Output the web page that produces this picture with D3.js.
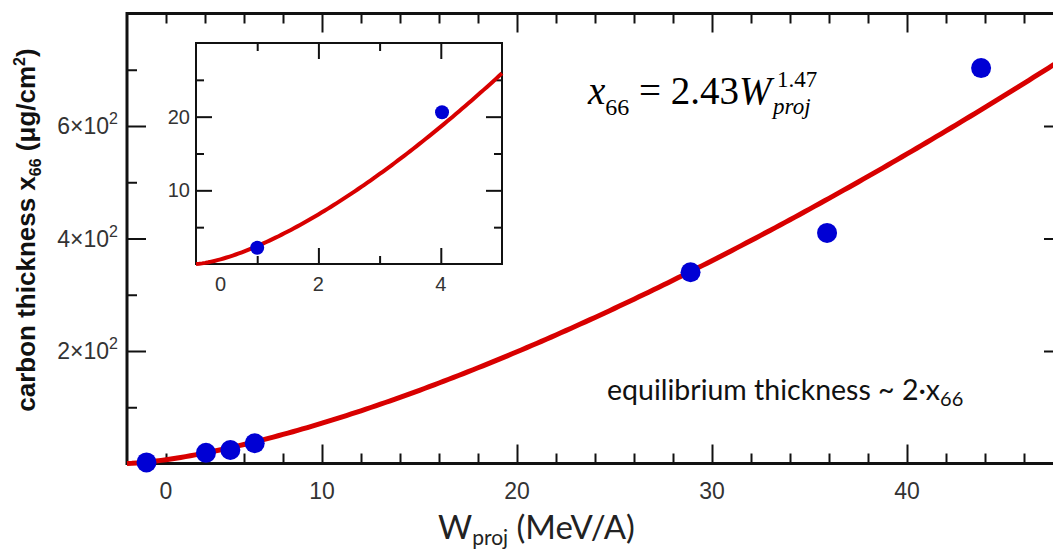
<!DOCTYPE html>
<html><head><meta charset="utf-8">
<script src="https://cdn.jsdelivr.net/npm/d3@7"></script>
<style>body{margin:0;background:#fff}svg{display:block}</style>
</head><body><svg id="c" width="1053" height="552"></svg>
<script>
// ---- data ----
const mainW   = [1.0, 4.05, 5.3, 6.55, 28.9, 35.9, 43.8];
const mainX66 = [2, 19, 24, 36, 340, 410, 703];
const insetW   = [1.0, 4.02];
const insetX66 = [2.2, 20.6];
const fitCoef = 2.43, fitExp = 1.47;

const xMajor = [10, 20, 30, 40];
const xMinor = [2,4,6,8,12,14,16,18,22,24,26,28,32,34,36,38,42,44,46];
const xLabelPos  = [2, 10, 20, 30, 40];
const xLabelText = ["0", "10", "20", "30", "40"];
const yMajor = [200, 400, 600];
const yMinor = [100, 300, 500, 700];
const yLabelBase = ["2×10", "4×10", "6×10"];
const yLabelExp  = ["2", "2", "2"];

const inXMajor = [2, 4];
const inXMinor = [1, 3];
const inXLabelPos  = [0.4, 2, 4];
const inXLabelText = ["0", "2", "4"];
const inYMajor = [10, 20];
const inYMinor = [5, 15, 25];
const inYLabelText = ["10", "20"];

// ---- drawing ----
const svg = d3.select("#c");
svg.append("rect").attr("width",1053).attr("height",552).attr("fill","#fff");

const x = d3.scaleLinear([0, 48], [127, 1063]);
const y = d3.scaleLinear([0, 800], [463.5, 13.5]);

function tickGroup(parent, axisFn, scale, vals, size, tx, ty, sw) {
  const g = parent.append("g").attr("transform", `translate(${tx},${ty})`)
    .call(axisFn(scale).tickValues(vals).tickSize(size).tickFormat(""));
  g.select(".domain").remove();
  g.selectAll(".tick line").attr("stroke", "#111").attr("stroke-width", sw);
  return g;
}

const main = svg.append("g");
tickGroup(main, d3.axisBottom, x, xMajor, -19, 0, y(0), 2);
tickGroup(main, d3.axisBottom, x, xMinor, -10, 0, y(0), 2);
tickGroup(main, d3.axisTop, x, xMajor, -19, 0, y(800), 2);
tickGroup(main, d3.axisTop, x, xMinor, -10, 0, y(800), 2);
tickGroup(main, d3.axisLeft, y, yMajor, -19, x(0), 0, 2);
tickGroup(main, d3.axisLeft, y, yMinor, -10, x(0), 0, 2);
tickGroup(main, d3.axisRight, y, yMajor, -19, x(48), 0, 2);
tickGroup(main, d3.axisRight, y, yMinor, -10, x(48), 0, 2);
main.append("rect").attr("x", x(0)).attr("y", y(800))
  .attr("width", x(48) - x(0)).attr("height", y(0) - y(800))
  .attr("fill", "none").attr("stroke", "#111").attr("stroke-width", 3);

main.selectAll("text.xl").data(xLabelPos).join("text").attr("class","xl")
  .attr("x", d => x(d)).attr("y", 499).attr("text-anchor","middle")
  .attr("font-family","Liberation Sans, Arial, sans-serif").attr("font-size",23).attr("fill","#333")
  .text((d,i) => xLabelText[i]);
const yl = main.selectAll("text.yl").data(yMajor).join("text").attr("class","yl")
  .attr("x", x(0) - 9).attr("y", d => y(d) + 8).attr("text-anchor","end")
  .attr("font-family","Liberation Sans, Arial, sans-serif").attr("font-size",23).attr("fill","#333");
yl.append("tspan").text((d,i) => yLabelBase[i]);
yl.append("tspan").attr("dy", -10).attr("font-size", 16).text((d,i) => yLabelExp[i]);

const fitW = d3.range(0, 48.001, 0.25);
const line = d3.line().x(d => x(d)).y(d => y(fitCoef * Math.pow(d, fitExp)));
main.append("path").datum(fitW).attr("d", line).attr("fill","none")
  .attr("stroke","#d80000").attr("stroke-width",5);

main.selectAll("circle").data(mainW).join("circle")
  .attr("cx", d => x(d)).attr("cy", (d,i) => y(mainX66[i])).attr("r", 10).attr("fill","#0000d4");

// axis titles
const yt = svg.append("text").attr("transform","translate(35,230) rotate(-90)")
  .attr("text-anchor","middle").attr("font-family","Liberation Sans, Arial, sans-serif")
  .attr("font-weight","bold").attr("font-size",26).attr("fill","#111");
yt.append("tspan").text("carbon thickness x");
yt.append("tspan").attr("font-size",16).attr("dy",6).text("66");
yt.append("tspan").attr("dy",-6).text(" (μg/cm");
yt.append("tspan").attr("font-size",16).attr("dy",-10).text("2");
yt.append("tspan").attr("dy",10).text(")");

const xt = svg.append("text").attr("x", 438).attr("y", 539)
  .attr("font-family","Lato, Open Sans, sans-serif").attr("font-size",33).attr("fill","#222");
xt.append("tspan").text("W");
xt.append("tspan").attr("font-size",21).attr("dy",6).text("proj");
xt.append("tspan").attr("dy",-6).text(" (MeV/A)");

// annotation
const an = svg.append("text").attr("x", 607).attr("y", 400)
  .attr("font-family","Lato, Open Sans, sans-serif").attr("font-size",28.5).attr("fill","#111");
an.append("tspan").text("equilibrium thickness ~ 2·x");
an.append("tspan").attr("font-size",20).attr("dy",6).text("66");

// formula
const fm = svg.append("text").attr("x", 588).attr("y", 104)
  .attr("font-family","Liberation Serif, Times New Roman, serif").attr("font-size",39).attr("fill","#000");
fm.append("tspan").attr("font-style","italic").text("x");
fm.append("tspan").attr("font-size",24).attr("dy",11).text("66");
fm.append("tspan").attr("dy",-11).text(" = 2.43");
fm.append("tspan").attr("font-style","italic").text("W");
const fb = fm.node().getBBox();
const fx = fb.x + fb.width;
svg.append("text").attr("x", fx + 2).attr("y", 87)
  .attr("font-family","Liberation Serif, Times New Roman, serif").attr("font-size",23).text("1.47");
svg.append("text").attr("x", fx - 2).attr("y", 114)
  .attr("font-family","Liberation Serif, Times New Roman, serif").attr("font-style","italic").attr("font-size",23).text("proj");

// ---- inset ----
const ix = d3.scaleLinear([0, 5], [196, 502]);
const iy = d3.scaleLinear([0, 30], [264, 43]);
const ins = svg.append("g");
ins.append("rect").attr("x", ix(0)).attr("y", iy(30)).attr("width", ix(5)-ix(0)).attr("height", iy(0)-iy(30))
  .attr("fill","#fff");
tickGroup(ins, d3.axisBottom, ix, inXMajor, -16, 0, iy(0), 2);
tickGroup(ins, d3.axisBottom, ix, inXMinor, -8, 0, iy(0), 2);
tickGroup(ins, d3.axisTop, ix, inXMajor, -16, 0, iy(30), 2);
tickGroup(ins, d3.axisTop, ix, inXMinor, -8, 0, iy(30), 2);
tickGroup(ins, d3.axisLeft, iy, inYMajor, -16, ix(0), 0, 2);
tickGroup(ins, d3.axisLeft, iy, inYMinor, -8, ix(0), 0, 2);
tickGroup(ins, d3.axisRight, iy, inYMajor, -16, ix(5), 0, 2);
tickGroup(ins, d3.axisRight, iy, inYMinor, -8, ix(5), 0, 2);
ins.append("rect").attr("x", ix(0)).attr("y", iy(30)).attr("width", ix(5)-ix(0)).attr("height", iy(0)-iy(30))
  .attr("fill","none").attr("stroke","#111").attr("stroke-width",2);
ins.selectAll("text.ixl").data(inXLabelPos).join("text").attr("class","ixl")
  .attr("x", d => ix(d)).attr("y", 291).attr("text-anchor","middle")
  .attr("font-family","Liberation Sans, Arial, sans-serif").attr("font-size",20).attr("fill","#333")
  .text((d,i) => inXLabelText[i]);
ins.selectAll("text.iyl").data(inYMajor).join("text").attr("class","iyl")
  .attr("x", ix(0) - 6).attr("y", d => iy(d) + 7).attr("text-anchor","end")
  .attr("font-family","Liberation Sans, Arial, sans-serif").attr("font-size",20).attr("fill","#333")
  .text((d,i) => inYLabelText[i]);
const fitWi = d3.range(0, 5.001, 0.05);
const iline = d3.line().x(d => ix(d)).y(d => iy(fitCoef * Math.pow(d, fitExp)));
ins.append("path").datum(fitWi).attr("d", iline).attr("fill","none")
  .attr("stroke","#d80000").attr("stroke-width",4);
ins.selectAll("circle").data(insetW).join("circle")
  .attr("cx", d => ix(d)).attr("cy", (d,i) => iy(insetX66[i])).attr("r", 7).attr("fill","#0000d4");
</script></body></html>
